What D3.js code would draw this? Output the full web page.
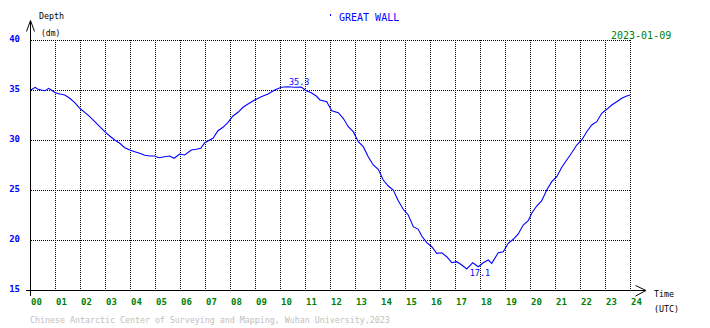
<!DOCTYPE html>
<html>
<head>
<style>
  body { margin: 0; background: #fff; }
  svg { display: block; font-family: "DejaVu Sans Mono", monospace; }
</style>
</head>
<body>
<script src="https://d3js.org/d3.v7.min.js"></script>
<script>
// tide record, Great Wall station, 2023-01-09 (hours UTC, depth in dm)
const hours = [0.03, 0.21, 0.3, 0.45, 0.6, 0.75, 0.85, 1.01, 1.2, 1.39, 1.59, 1.79, 1.99, 2.19, 2.39, 2.59, 2.79, 2.99,
  3.19, 3.39, 3.59, 3.79, 3.99, 4.19, 4.39, 4.59, 4.79, 4.99, 5.15, 5.39, 5.59, 5.76, 5.99, 6.19, 6.45, 6.65, 6.83,
  6.99, 7.19, 7.32, 7.52, 7.72, 7.92, 8.12, 8.32, 8.52, 8.72, 8.99, 9.25, 9.52, 9.79, 10.05, 10.32, 10.59, 10.85,
  11.05, 11.25, 11.45, 11.6, 11.87, 12.07, 12.33, 12.53, 12.73, 12.93, 13.13, 13.33, 13.53, 13.73, 13.93, 14.13,
  14.33, 14.53, 14.73, 14.93, 15.13, 15.33, 15.53, 15.67, 15.87, 16.07, 16.27, 16.47, 16.67, 16.87, 17.07, 17.27,
  17.47, 17.71, 17.93, 18.13, 18.33, 18.47, 18.73, 18.93, 19.13, 19.33, 19.53, 19.73, 19.93, 20.07, 20.27, 20.47,
  20.67, 20.87, 21.07, 21.27, 21.47, 21.67, 21.87, 22.07, 22.27, 22.47, 22.67, 22.87, 23.07, 23.27, 23.47, 23.67,
  23.87, 24.0];
const depths = [35.0, 35.27, 35.1, 35.0, 34.93, 35.17, 35.0, 34.73, 34.6, 34.5, 34.17, 33.73, 33.17, 32.77, 32.33,
  31.83, 31.33, 30.83, 30.4, 30.0, 29.67, 29.23, 29.0, 28.83, 28.67, 28.47, 28.4, 28.4, 28.23, 28.33, 28.4, 28.17,
  28.6, 28.5, 29.0, 29.07, 29.17, 29.73, 30.0, 30.17, 30.93, 31.27, 31.77, 32.4, 32.77, 33.27, 33.6, 34.0, 34.33,
  34.6, 35.0, 35.27, 35.33, 35.27, 35.3, 34.93, 34.73, 34.4, 34.0, 33.83, 32.93, 32.73, 32.17, 31.33, 30.83, 29.83,
  29.33, 28.33, 27.5, 27.07, 26.0, 25.4, 25.0, 23.93, 23.07, 22.5, 21.33, 21.07, 20.4, 19.73, 19.33, 18.67, 18.73,
  18.33, 17.73, 17.83, 17.5, 17.1, 17.73, 17.33, 17.73, 18.0, 17.67, 18.73, 18.83, 19.67, 20.07, 20.6, 21.5, 21.93,
  22.67, 23.4, 23.93, 25.0, 25.83, 26.33, 27.27, 28.0, 28.73, 29.5, 30.0, 30.83, 31.5, 31.83, 32.67, 33.07, 33.5,
  33.83, 34.17, 34.4, 34.5];
const depthTicks = [15, 20, 25, 30, 35, 40];
const hourTicks = d3.range(0, 25);

const width = 710, height = 328;
const svg = d3.select("body").append("svg")
  .attr("width", width)
  .attr("height", height);

const x = d3.scaleLinear().domain([0, 24]).range([30, 630]);
const y = d3.scaleLinear().domain([15, 40]).range([290, 40]);

// dotted grid
const grid = svg.append("g")
  .attr("stroke", "#000")
  .attr("stroke-dasharray", "1,1")
  .attr("shape-rendering", "crispEdges");
grid.selectAll("line.h")
  .data(depthTicks.slice(1))
  .join("line")
  .attr("x1", x(0) + 1).attr("x2", x(24))
  .attr("y1", d => y(d) + 0.5).attr("y2", d => y(d) + 0.5);
grid.selectAll("line.v")
  .data(hourTicks.slice(1))
  .join("line")
  .attr("x1", d => x(d) + 0.5).attr("x2", d => x(d) + 0.5)
  .attr("y1", y(40)).attr("y2", y(15));

// axes with arrows
const axes = svg.append("g").attr("stroke", "#000").attr("fill", "none");
axes.append("line").attr("x1", 30.5).attr("x2", 30.5).attr("y1", 21).attr("y2", 296)
  .attr("shape-rendering", "crispEdges");
axes.append("line").attr("x1", 26).attr("x2", 645).attr("y1", 290.5).attr("y2", 290.5)
  .attr("shape-rendering", "crispEdges");
axes.append("path").attr("d", "M26.5,31.5 L30.5,20.5 L34.5,31.5");
axes.append("path").attr("d", "M635.5,285.5 L646,290.5 L635.5,296");

// y tick labels
svg.append("g").selectAll("text")
  .data(depthTicks)
  .join("text")
  .attr("x", 20).attr("y", d => y(d) + 2)
  .attr("text-anchor", "end")
  .attr("font-size", 9).attr("font-weight", "bold")
  .attr("fill", "#0000ff")
  .text(d => d);

// x tick labels
svg.append("g").selectAll("text")
  .data(hourTicks)
  .join("text")
  .attr("x", d => x(d) + 1).attr("y", 305)
  .attr("font-size", 9).attr("font-weight", "bold")
  .attr("fill", "#008000")
  .text(d => String(d).padStart(2, "0"));

// tide curve
const line = d3.line()
  .x((d, i) => x(hours[i]))
  .y(d => y(d));
svg.append("path")
  .datum(depths)
  .attr("fill", "none")
  .attr("stroke", "#0000ff")
  .attr("stroke-width", 1.1)
  .attr("d", line);

// max / min labels
const iMax = d3.maxIndex(depths), iMin = d3.minIndex(depths);
svg.append("text")
  .attr("x", x(hours[iMax]) + 1).attr("y", y(depths[iMax]) - 2)
  .attr("font-size", 8.5).attr("fill", "#0000ff")
  .text(d3.max(depths).toFixed(1));
svg.append("text")
  .attr("x", x(hours[iMin]) + 3).attr("y", y(depths[iMin]) + 7)
  .attr("font-size", 8.5).attr("fill", "#0000ff")
  .text(d3.min(depths).toFixed(1));

// titles and labels
svg.append("rect").attr("x", 330).attr("y", 14).attr("width", 1).attr("height", 2).attr("fill", "#0000ff");
svg.append("text").attr("x", 339).attr("y", 21)
  .attr("font-size", 10).attr("fill", "#0000ff").text("GREAT WALL");
svg.append("text").attr("x", 611).attr("y", 39)
  .attr("font-size", 10).attr("fill", "#008000").text("2023-01-09");
svg.append("text").attr("x", 39).attr("y", 19)
  .attr("font-size", 8.3).attr("fill", "#000").text("Depth");
svg.append("text").attr("x", 41).attr("y", 36)
  .attr("font-size", 8).attr("fill", "#000").text("(dm)");
svg.append("text").attr("x", 654).attr("y", 297)
  .attr("font-size", 8.3).attr("fill", "#000").text("Time");
svg.append("text").attr("x", 654).attr("y", 312)
  .attr("font-size", 8.3).attr("fill", "#000").text("(UTC)");
svg.append("text").attr("x", 30).attr("y", 323)
  .attr("font-size", 8.3).attr("fill", "#c0c0c0")
  .text("Chinese Antarctic Center of Surveying and Mapping, Wuhan University,2023");
</script>
</body>
</html>
